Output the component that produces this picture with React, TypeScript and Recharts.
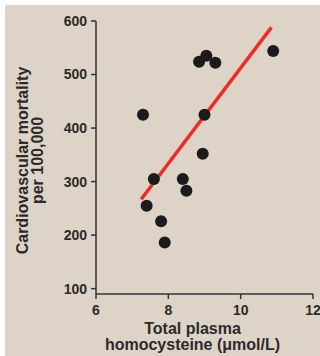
import { ScatterChart, Scatter, XAxis, YAxis, ReferenceLine, Label } from "recharts";

// total plasma homocysteine (µmol/L) per country
const homocysteine = [7.3, 7.4, 7.6, 7.8, 7.9, 8.4, 8.5, 8.85, 8.95, 9.0, 9.05, 9.3, 10.9];
// cardiovascular mortality per 100,000
const mortality = [425, 255, 305, 226, 186, 305, 283, 524, 352, 425, 535, 522, 544];

// regression line end points
const fitX = [7.25, 10.85];
const fitY = [267, 588];

const xTicks = [6, 8, 10, 12];
const yTicks = [100, 200, 300, 400, 500, 600];

const points = homocysteine.map((x, i) => ({ x, y: mortality[i] }));
const fit = fitX.map((x, i) => ({ x, y: fitY[i] }));

const textColor = "#2b2b2b";
const axisColor = "#333";

const Dot = (props: any) => <circle cx={props.cx} cy={props.cy} r={6} fill="#1b1b1b" />;

const XLabel = (props: any) => {
  const vb = props.viewBox;
  const x = vb.x + vb.width / 2 - 12;
  return (
    <text x={x} y={vb.y + 40} textAnchor="middle" fontSize={16} fontWeight="bold" fill={textColor}>
      <tspan x={x}>Total plasma</tspan>
      <tspan x={x} dy={16}>homocysteine (μmol/L)</tspan>
    </text>
  );
};

const YLabel = (props: any) => {
  const vb = props.viewBox;
  const x = 23;
  const y = vb.y + vb.height / 2 + 3;
  return (
    <text
      x={x}
      y={y}
      transform={`rotate(-90, ${x}, ${y})`}
      textAnchor="middle"
      fontSize={16}
      fontWeight="bold"
      fill={textColor}
    >
      <tspan x={x}>Cardiovascular mortality</tspan>
      <tspan x={x} dy={15}>per 100,000</tspan>
    </text>
  );
};

const App = () => {
  return (
    <div style={{ position: "fixed", left: 0, top: 0, width: 320, height: 356, background: "#fff" }}>
      <div
        style={{
          position: "absolute",
          left: 5,
          top: 5,
          width: 315,
          height: 351,
          background: "#ddd3c6",
          fontFamily: "'Liberation Sans', Arial, sans-serif",
        }}
      >
        <ScatterChart width={315} height={351} margin={{ top: 16, right: 7, bottom: 0, left: 0 }}>
          <XAxis
            type="number"
            dataKey="x"
            domain={[6, 12]}
            ticks={xTicks}
            height={62}
            stroke={axisColor}
            strokeWidth={1.5}
            tickSize={5}
            tickMargin={6}
            tick={{ fontSize: 14, fontWeight: "bold", fill: textColor }}
          >
            <Label content={XLabel} />
          </XAxis>
          <YAxis
            type="number"
            dataKey="y"
            domain={[90, 600]}
            ticks={yTicks}
            width={91}
            stroke={axisColor}
            strokeWidth={1.5}
            tickSize={5}
            tickMargin={4}
            tick={{ fontSize: 14, fontWeight: "bold", fill: textColor }}
          >
            <Label content={YLabel} />
          </YAxis>
          <ReferenceLine segment={fit} stroke="#ef2b25" strokeWidth={3.5} />
          <Scatter data={points} shape={Dot} isAnimationActive={false} />
        </ScatterChart>
      </div>
    </div>
  );
};

export default App;
